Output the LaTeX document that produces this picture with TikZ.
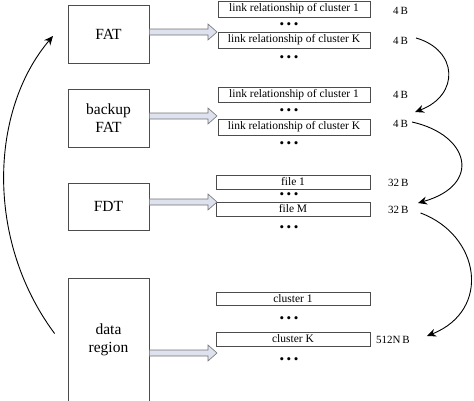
\documentclass[tikz,border=0pt]{standalone}
\usepackage{fontspec}
\setmainfont{Liberation Serif}
\usetikzlibrary{arrows.meta}
\definecolor{arrowfill}{HTML}{DDE2EE}
\tikzset{
  bigbox/.style={draw=black!70, line width=0.8pt, fill=white, inner sep=0pt, font=\fontsize{15.5}{18}\selectfont, align=center},
  rowbox/.style={draw=black!70, line width=0.8pt, inner sep=0pt, font=\fontsize{11.5}{12}\selectfont},
  sizelbl/.style={font=\fontsize{11}{12}\selectfont, inner sep=0pt, anchor=west},
  dotrow/.style={font=\fontsize{13}{14}\selectfont, inner sep=0pt},
  blockarrow/.style={draw=black!55, fill=arrowfill, line width=0.6pt},
  curvearrow/.style={line width=0.9pt, -{Stealth[length=9pt,width=8pt]}}
}
\newcommand{\threedots}{\textbullet\hspace{2.6pt}\textbullet\hspace{2.6pt}\textbullet}
\begin{document}
\begin{tikzpicture}[x=1pt,y=-1pt]
\useasboundingbox (0,0) rectangle (474,400);
% left boxes
\node[bigbox, minimum width=81pt, minimum height=58pt] (fat) at (108.5,34) {FAT};
\node[bigbox, minimum width=81pt, minimum height=58pt] (bfat) at (108.5,118) {backup\\FAT};
\node[bigbox, minimum width=81pt, minimum height=47pt] (fdt) at (108.5,206.5) {FDT};
\node[bigbox, minimum width=81pt, minimum height=123pt] (data) at (108.5,339.5) {data\\region};
% right rows
\node[rowbox, minimum width=152pt, minimum height=16pt] (f1) at (294,9) {link relationship of cluster 1};
\node[dotrow] (fd1) at (289,26) {\threedots};
\node[rowbox, minimum width=152pt, minimum height=16pt] (fk) at (294,40) {link relationship of cluster K};
\node[dotrow] (fd2) at (289,59) {\threedots};
\node[rowbox, minimum width=152pt, minimum height=15pt] (b1) at (294,94.5) {link relationship of cluster 1};
\node[dotrow] (bd1) at (289,112) {\threedots};
\node[rowbox, minimum width=152pt, minimum height=16pt] (bk) at (294,127) {link relationship of cluster K};
\node[dotrow] (bd2) at (289,145) {\threedots};
\node[rowbox, minimum width=154pt, minimum height=14pt] (d1) at (293,182) {file 1};
\node[dotrow] (dd1) at (289,196) {\threedots};
\node[rowbox, minimum width=154pt, minimum height=14pt] (dm) at (293,209) {file M};
\node[dotrow] (dd2) at (289,229) {\threedots};
\node[rowbox, minimum width=154pt, minimum height=13pt] (c1) at (293,298.5) {cluster 1};
\node[dotrow] (cd1) at (289,320) {\threedots};
\node[rowbox, minimum width=154pt, minimum height=14pt] (ck) at (293,339) {cluster K};
\node[dotrow] (cd2) at (289,361) {\threedots};
% size labels
\node[sizelbl] (s1) at (393,11) {4\,B};
\node[sizelbl] (s2) at (393,41) {4\,B};
\node[sizelbl] (s3) at (393,95) {4\,B};
\node[sizelbl] (s4) at (393,124) {4\,B};
\node[sizelbl] (s5) at (388,183) {32\,B};
\node[sizelbl] (s6) at (388,210) {32\,B};
\node[sizelbl] (s7) at (376,340) {512N\,B};
% block arrows
\foreach \src/\yy in {fat/32, bfat/116, fdt/202, data/353}{
  \draw[blockarrow] (\src.east |- 0,\yy-3) -- (208,\yy-3) -- (208,\yy-8) -- (217,\yy) -- (208,\yy+8) -- (208,\yy+3) -- (\src.east |- 0,\yy+3) -- cycle;
}
% curved arrows
\draw[curvearrow] (s2.east) ++(8,-3) .. controls (458,50) and (460,95) .. (415,112);
\draw[curvearrow] (s4.east) ++(4,-2) .. controls (470,135) and (482,185) .. (418,203);
\draw[curvearrow] (s6.east) ++(12,3) .. controls (480,235) and (492,310) .. (427,336);
\draw[curvearrow] (data.west) ++(-13,-6) .. controls (-15,240) and (-10,110) .. (53,36);
\end{tikzpicture}
\end{document}
